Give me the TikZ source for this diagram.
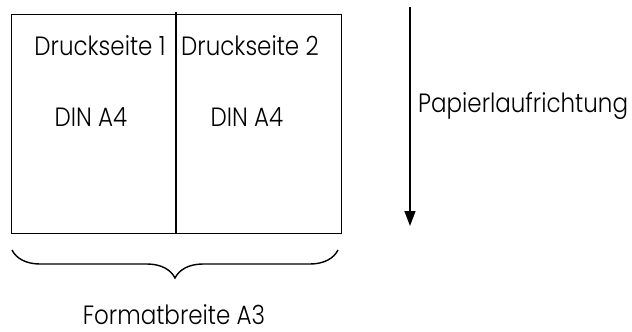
\documentclass[tikz,border=0pt]{standalone}
\usepackage{fontspec}
\IfFontExistsTF{Poppins Light}{\setmainfont{Poppins Light}}{\setmainfont{Poppins}}
\usetikzlibrary{arrows.meta,decorations.pathreplacing}
\newcommand{\tallt}[1]{\scalebox{1}[1.15]{#1}}
\tikzset{
  lbl/.style={inner sep=0pt, anchor=base, font=\fontsize{23}{26}\selectfont},
  frame/.style={line width=1.4pt},
}
\begin{document}
\begin{tikzpicture}[x=1pt,y=-1pt]
\useasboundingbox (0,0) rectangle (632,332);
\node[frame, draw, minimum width=330pt, minimum height=219pt, anchor=north west, inner sep=0pt] (sheet) at (11,14) {};
\coordinate (divtop) at (176,12);
\coordinate (divbot) at (176,233);
\draw[frame] (divtop) -- (divbot);
\node[lbl] (d1) at (100,55) {\tallt{Druckseite 1}};
\node[lbl] (d2) at (250,55) {\tallt{Druckseite 2}};
\node[lbl] (a1) at (91,126) {\tallt{DIN A4}};
\node[lbl] (a2) at (247,126) {\tallt{DIN A4}};
\coordinate (bl) at (12,250);
\coordinate (br) at (338,250);
\draw[frame, decorate, decoration={brace, mirror, amplitude=28pt}] (bl) -- (br);
\node[lbl] (fb) at (174,324) {\tallt{Formatbreite A3}};
\coordinate (arrtop) at (410,7);
\coordinate (arrbot) at (410,226);
\draw[frame, -{Triangle[length=15pt,width=11pt]}] (arrtop) -- (arrbot);
\node[lbl, anchor=base west] (pl) at (418,112) {\tallt{Papierlaufrichtung}};
\end{tikzpicture}
\end{document}
